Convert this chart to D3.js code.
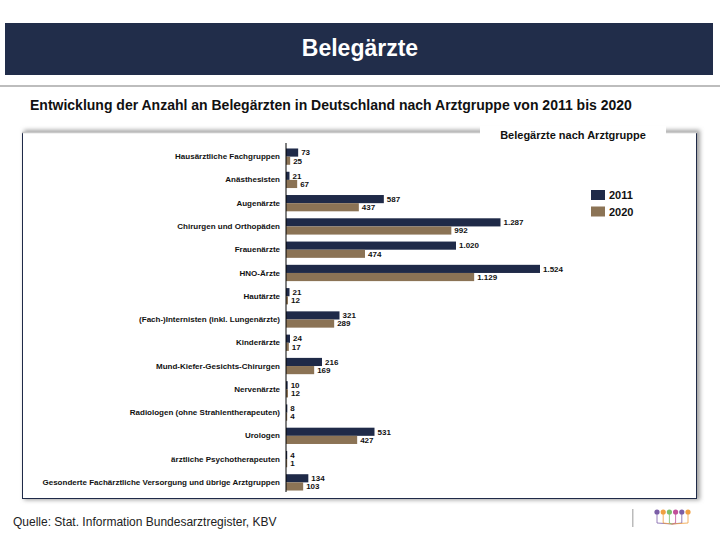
<!DOCTYPE html>
<html><head><meta charset="utf-8">
<script src="https://cdn.jsdelivr.net/npm/d3@7/dist/d3.min.js"></script>
<style>body{margin:0;background:#fff;} svg{display:block;font-family:"Liberation Sans",Arial,sans-serif;}</style>
</head><body>
<script>
const categories = ["Hausärztliche Fachgruppen","Anästhesisten","Augenärzte","Chirurgen und Orthopäden","Frauenärzte","HNO-Ärzte","Hautärzte","(Fach-)Internisten (inkl. Lungenärzte)","Kinderärzte","Mund-Kiefer-Gesichts-Chirurgen","Nervenärzte","Radiologen (ohne Strahlentherapeuten)","Urologen","ärztliche Psychotherapeuten","Gesonderte Fachärztliche Versorgung und übrige Arztgruppen"];
const values2011 = [73,21,587,1287,1020,1524,21,321,24,216,10,8,531,4,134];
const values2020 = [25,67,437,992,474,1129,12,289,17,169,12,4,427,1,103];
const seriesNames = ["2011","2020"];
const colors = ["#1f2a48","#8b7355"];

const W=720,H=540;
const svg=d3.select("body").append("svg").attr("width",W).attr("height",H);
const defs=svg.append("defs");
const f=defs.append("filter").attr("id","sh").attr("x","-10%").attr("y","-10%").attr("width","120%").attr("height","120%");
f.append("feGaussianBlur").attr("stdDeviation",2);

// header
svg.append("rect").attr("x",5).attr("y",23).attr("width",708).attr("height",52).attr("fill","#212d4a");
svg.append("text").attr("x",360).attr("y",56).attr("text-anchor","middle").attr("fill","#fff")
  .attr("font-size",23).attr("font-weight","bold").attr("font-family","Liberation Sans Narrow, Liberation Sans, Arial").text("Belegärzte");
svg.append("rect").attr("x",0).attr("y",85).attr("width",720).attr("height",2).attr("fill","#bdbdbd");
svg.append("text").attr("x",30).attr("y",110).attr("fill","#111").attr("font-size",14).attr("font-weight","bold")
  .attr("font-family","Liberation Sans Narrow, Liberation Sans, Arial")
  .text("Entwicklung der Anzahl an Belegärzten in Deutschland nach Arztgruppe von 2011 bis 2020");

// chart box
svg.append("rect").attr("x",24).attr("y",130).attr("width",676).attr("height",370).attr("fill","#a0a0a0").attr("filter","url(#sh)");
svg.append("rect").attr("x",22.5).attr("y",132.5).attr("width",674).attr("height",366).attr("fill","#fff").attr("stroke","#1f2a48").attr("stroke-width",1);
svg.append("line").attr("x1",22).attr("x2",697).attr("y1",132.5).attr("y2",132.5).attr("stroke","#c8c8c8").attr("stroke-width",1.5);
svg.append("rect").attr("x",480).attr("y",126).attr("width",186).attr("height",14).attr("fill","#fff");
svg.append("text").attr("x",573).attr("y",139).attr("text-anchor","middle").attr("font-size",11).attr("font-weight","bold").attr("fill","#111").text("Belegärzte nach Arztgruppe");

// scales
const x=d3.scaleLinear().domain([0,1800]).range([286,586]);
const y=d3.scaleBand().domain(categories).range([145,494]).paddingInner(0.3).paddingOuter(0.15);
const ys=d3.scaleBand().domain(seriesNames).range([0,y.bandwidth()]);
const loc=d3.formatLocale({decimal:",",thousands:".",grouping:[3],currency:["","€"]});
const fmt=loc.format(",d");

const rows=categories.map((c,i)=>({c,v:[values2011[i],values2020[i]]}));
const g=svg.append("g");
rows.forEach(r=>{
  seriesNames.forEach((s,j)=>{
    const w=Math.max(1.2,x(r.v[j])-x(0));
    g.append("rect").attr("x",x(0)).attr("y",y(r.c)+ys(s)).attr("width",w).attr("height",ys.bandwidth()).attr("fill",colors[j]);
    g.append("text").attr("x",x(0)+w+3).attr("y",y(r.c)+ys(s)+ys.bandwidth()/2).attr("dy","0.35em")
      .attr("font-size",8).attr("font-weight","bold").attr("fill","#111").text(fmt(r.v[j]));
  });
});
const yAxis=d3.axisLeft(y).tickSize(0).tickPadding(6);
const ga=svg.append("g").attr("transform",`translate(${x(0)},0)`).call(yAxis);
ga.select(".domain").remove();
ga.selectAll("text").attr("font-size",8).attr("font-weight","bold").attr("fill","#111").attr("font-family","Liberation Sans, Arial");
svg.append("line").attr("x1",x(0)).attr("x2",x(0)).attr("y1",143).attr("y2",492).attr("stroke","#000").attr("stroke-width",1);

// legend
seriesNames.forEach((s,j)=>{
  svg.append("rect").attr("x",591).attr("y",190+j*16.5).attr("width",14).attr("height",10).attr("fill",colors[j]);
  svg.append("text").attr("x",609).attr("y",199+j*16.5).attr("font-size",11).attr("font-weight","bold").attr("fill","#111").text(s);
});

// footer
svg.append("text").attr("x",13).attr("y",526).attr("font-size",12).attr("fill","#222").text("Quelle: Stat. Information Bundesarztregister, KBV");
svg.append("rect").attr("x",632).attr("y",509).attr("width",1.5).attr("height",18).attr("fill","#bbb");
const lc=["#7b5ea7","#f0a040","#7cbf6a","#c2509a","#7b5ea7","#f0a040"];
lc.forEach((c,i)=>{
  const cx=657+i*6.2;
  svg.append("line").attr("x1",cx).attr("x2",cx).attr("y1",512).attr("y2",523).attr("stroke",c).attr("stroke-width",0.8);
  svg.append("line").attr("x1",cx).attr("x2",672).attr("y1",523).attr("y2",524).attr("stroke",c).attr("stroke-width",0.8);
  svg.append("circle").attr("cx",cx).attr("cy",512).attr("r",2.6).attr("fill",c);
});
</script>
</body></html>
